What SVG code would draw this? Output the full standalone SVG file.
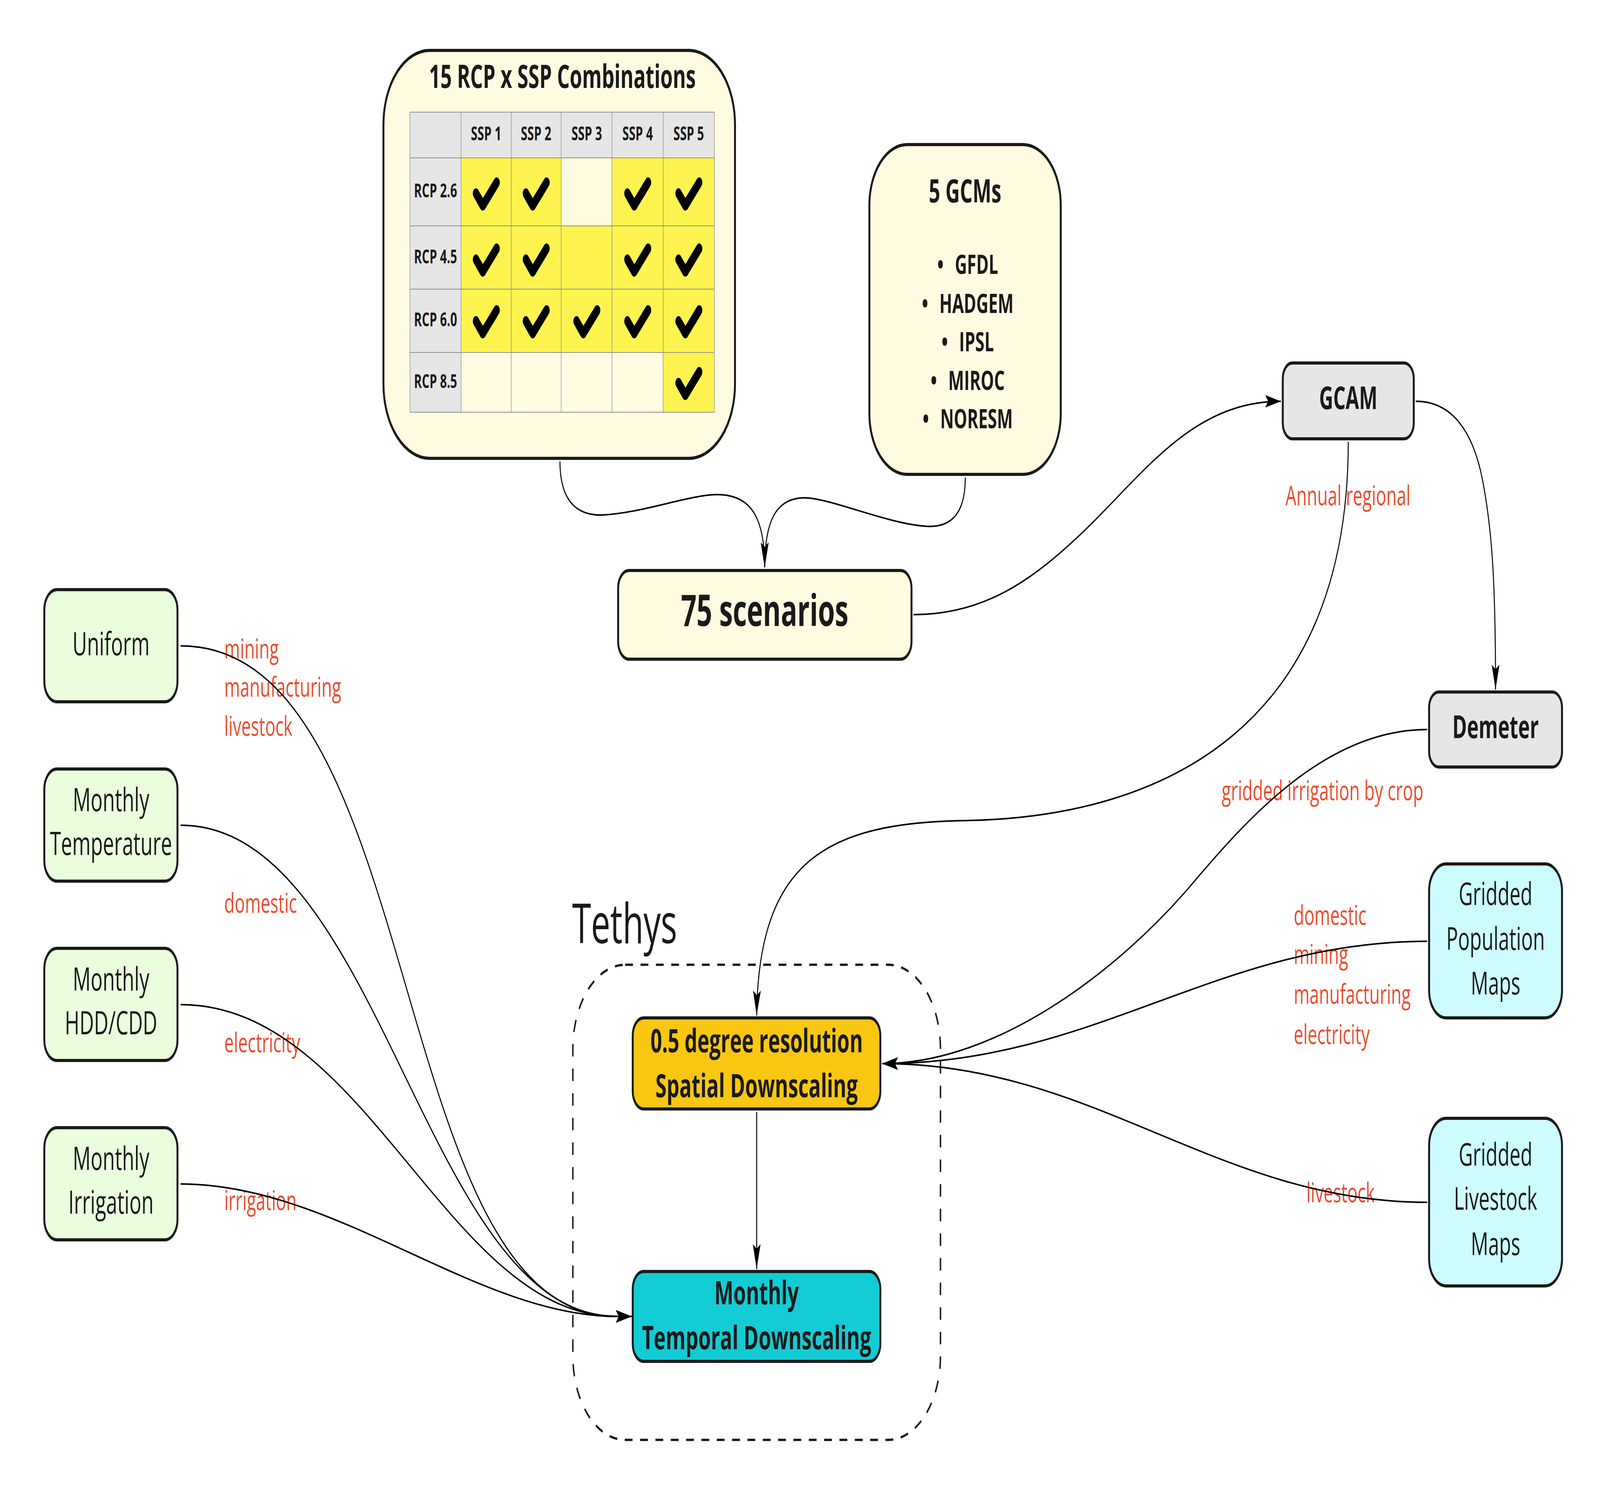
<svg xmlns="http://www.w3.org/2000/svg" xmlns:xlink="http://www.w3.org/1999/xlink" width="6572" height="3803" viewBox="0 0 6572 3803" preserveAspectRatio="none" style="width:100%;height:100%">
<style>
.node{stroke:#1a1a1a;stroke-width:8}
.cream{fill:#FFFBE0}
.gray{fill:#E6E6E6}
.green{fill:#EAFDDD}
.cyanl{fill:#CCFCFE}
.t{font-family:"Open Sans","DejaVu Sans",sans-serif;fill:#1a1a1a}
.b{font-weight:bold}
.mid{text-anchor:middle}
.lbl{font-family:"Open Sans","DejaVu Sans",sans-serif;font-size:70px;fill:#EB4B2D}
.edge{fill:none;stroke:#000;stroke-width:4;marker-end:url(#arr)}
.grid{fill:none;stroke:#8c8c8c;stroke-width:2}
.chk{fill:none;stroke:#000;stroke-width:26;stroke-linecap:round;stroke-linejoin:round}
</style>
<defs>
<marker id="arr" viewBox="0 0 64 32" markerWidth="64" markerHeight="32" refX="64" refY="16" orient="auto" markerUnits="userSpaceOnUse">
<path d="M0,0 L64,16 L0,32 L12,16 Z" fill="#000"/>
</marker>
<path id="chk" class="chk" d="M-42,4 L-14,35 L43,-24"/>
</defs>
<rect width="6572" height="3803" fill="#ffffff"/>

<g id="n-combos">
<rect class="node cream" x="1575" y="129" width="1444" height="1044" rx="190"/>
<text class="t b mid" x="2310" y="225" font-size="82">15 RCP x SSP Combinations</text>
<rect class="gray" x="1684" y="287" width="1250" height="117"/>
<rect class="gray" x="1684" y="404" width="210" height="651"/>
<rect class="cream" x="1894" y="404" width="1040" height="651"/>
<rect fill="#FFF44F" x="1894" y="404" width="411" height="174"/>
<rect fill="#FFF44F" x="2514" y="404" width="420" height="174"/>
<rect fill="#FFF44F" x="1894" y="578" width="1040" height="324"/>
<rect fill="#FFF44F" x="2724" y="902" width="210" height="153"/>
<path class="grid" d="M1684,287 H2934 V1055 H1684 Z M1684,404 H2934 M1684,578 H2934 M1684,740 H2934 M1684,902 H2934 M1894,287 V1055 M2100,287 V1055 M2305,287 V1055 M2514,287 V1055 M2724,287 V1055"/>
<g class="t b mid" font-size="49">
<text x="1997" y="359">SSP 1</text>
<text x="2202" y="359">SSP 2</text>
<text x="2410" y="359">SSP 3</text>
<text x="2619" y="359">SSP 4</text>
<text x="2829" y="359">SSP 5</text>
<text x="1789" y="505">RCP 2.6</text>
<text x="1789" y="674">RCP 4.5</text>
<text x="1789" y="835">RCP 6.0</text>
<text x="1789" y="993">RCP 8.5</text>
</g>
<use xlink:href="#chk" x="1997" y="491"/>
<use xlink:href="#chk" x="2202" y="491"/>
<use xlink:href="#chk" x="2619" y="491"/>
<use xlink:href="#chk" x="2829" y="491"/>
<use xlink:href="#chk" x="1997" y="660"/>
<use xlink:href="#chk" x="2202" y="660"/>
<use xlink:href="#chk" x="2619" y="660"/>
<use xlink:href="#chk" x="2829" y="660"/>
<use xlink:href="#chk" x="1997" y="818"/>
<use xlink:href="#chk" x="2202" y="818"/>
<use xlink:href="#chk" x="2410" y="818"/>
<use xlink:href="#chk" x="2619" y="818"/>
<use xlink:href="#chk" x="2829" y="818"/>
<use xlink:href="#chk" x="2829" y="976"/>
</g>

<g id="n-gcms">
<rect class="node cream" x="3571" y="370" width="786" height="844" rx="155"/>
<text class="t b mid" x="3964" y="518" font-size="82">5 GCMs</text>
<g class="t b mid" font-size="69">
<text x="3975" y="701">•<tspan dx="46">GFDL</tspan></text>
<text x="3975" y="801">•<tspan dx="46">HADGEM</tspan></text>
<text x="3975" y="899">•<tspan dx="46">IPSL</tspan></text>
<text x="3975" y="998">•<tspan dx="46">MIROC</tspan></text>
<text x="3975" y="1096">•<tspan dx="46">NORESM</tspan></text>
</g>
</g>

<g id="n-scenarios">
<rect class="node cream" x="2539" y="1460" width="1205" height="227" rx="45"/>
<text class="t b mid" x="3141" y="1602" font-size="112">75 scenarios</text>
</g>

<g id="n-gcam">
<rect class="node gray" x="5269" y="929" width="538" height="194" rx="40"/>
<text class="t b mid" x="5538" y="1047" font-size="80">GCAM</text>
</g>

<g id="n-demeter">
<rect class="node gray" x="5870" y="1771" width="546" height="192" rx="40"/>
<text class="t b mid" x="6143" y="1889" font-size="81">Demeter</text>
</g>

<g id="n-population">
<rect class="node cyanl" x="5870" y="2211" width="546" height="394" rx="70"/>
<g class="t mid" font-size="80">
<text x="6143" y="2316">Gridded</text>
<text x="6143" y="2431">Population</text>
<text x="6143" y="2545">Maps</text>
</g>
</g>

<g id="n-livestock">
<rect class="node cyanl" x="5870" y="2862" width="546" height="429" rx="70"/>
<g class="t mid" font-size="80">
<text x="6143" y="2983">Gridded</text>
<text x="6143" y="3096">Livestock</text>
<text x="6143" y="3212">Maps</text>
</g>
</g>

<g id="n-uniform">
<rect class="node green" x="182" y="1509" width="547" height="287" rx="52"/>
<text class="t mid" x="456" y="1677" font-size="82">Uniform</text>
</g>
<g id="n-temperature">
<rect class="node green" x="182" y="1968" width="547" height="287" rx="52"/>
<text class="t mid" x="456" y="2076" font-size="82">Monthly</text>
<text class="t mid" x="456" y="2188" font-size="82">Temperature</text>
</g>
<g id="n-hddcdd">
<rect class="node green" x="182" y="2427" width="547" height="287" rx="52"/>
<text class="t mid" x="456" y="2535" font-size="82">Monthly</text>
<text class="t mid" x="456" y="2647" font-size="82">HDD/CDD</text>
</g>
<g id="n-irrigation">
<rect class="node green" x="182" y="2886" width="547" height="287" rx="52"/>
<text class="t mid" x="456" y="2994" font-size="82">Monthly</text>
<text class="t mid" x="456" y="3106" font-size="82">Irrigation</text>
</g>

<g id="n-tethys">
<rect x="2353" y="2469" width="1510" height="1216" rx="215" fill="none" stroke="#1a1a1a" stroke-width="6" stroke-dasharray="32 31"/>
<text class="t" x="2350" y="2414" font-size="141">Tethys</text>
</g>

<g id="n-spatial">
<rect class="node" fill="#F9C712" x="2599" y="2605" width="1017" height="233" rx="45"/>
<text class="t b mid" x="3108" y="2693" font-size="83">0.5 degree resolution</text>
<text class="t b mid" x="3108" y="2808" font-size="83">Spatial Downscaling</text>
</g>

<g id="n-temporal">
<rect class="node" fill="#13CBD4" x="2599" y="3254" width="1017" height="230" rx="45"/>
<text class="t b mid" x="3108" y="3338" font-size="83">Monthly</text>
<text class="t b mid" x="3108" y="3453" font-size="83">Temporal Downscaling</text>
</g>

<g id="labels">
<text class="lbl" x="921" y="1685">mining</text>
<text class="lbl" x="921" y="1783">manufacturing</text>
<text class="lbl" x="921" y="1883">livestock</text>
<text class="lbl" x="921" y="2336">domestic</text>
<text class="lbl" x="921" y="2693">electricity</text>
<text class="lbl" x="921" y="3097">irrigation</text>
<text class="lbl" x="5537" y="1293" text-anchor="middle">Annual regional</text>
<text class="lbl" x="5018" y="2048">gridded irrigation by crop</text>
<text class="lbl" x="5314" y="2367">domestic</text>
<text class="lbl" x="5314" y="2467">mining</text>
<text class="lbl" x="5314" y="2569">manufacturing</text>
<text class="lbl" x="5314" y="2672">electricity</text>
<text class="lbl" x="5366" y="3077">livestock</text>
</g>

<g id="connectors">
<path class="edge" d="M2300,1181 C2300,1290 2380,1320 2476,1318 C2650,1312 2850,1262 2960,1266 C3090,1270 3141,1330 3141,1452"/>
<path class="edge" d="M3965,1222 C3965,1320 3900,1350 3807,1347 C3650,1342 3400,1272 3300,1274 C3190,1276 3141,1330 3141,1452"/>
<path class="edge" d="M3752,1573 C4050,1573 4250,1480 4456,1357 C4700,1210 4900,1027 5261,1027"/>
<path class="edge" d="M5815,1027 C5960,1027 6050,1100 6090,1230 C6130,1360 6143,1500 6143,1765"/>
<path class="edge" d="M5538,1131 C5538,1850 4800,2090 3970,2100 C3400,2105 3115,2200 3108,2599"/>
<path class="edge" d="M5862,1867 C5450,1867 5129,2091 4894,2264 C4600,2480 4100,2722 3624,2722"/>
<path class="edge" d="M5862,2409 C5000,2409 4500,2722 3624,2722"/>
<path class="edge" d="M5862,3077 C5000,3077 4500,2722 3624,2722"/>
<path class="edge" d="M3108,2846 L3108,3248"/>
<path class="edge" d="M742,1653 C1760,1653 1578,3369 2533,3369 L2594,3369"/>
<path class="edge" d="M742,2112 C1572,2112 1744,3369 2533,3369 L2594,3369"/>
<path class="edge" d="M742,2571 C1512,2571 1839,3369 2533,3369 L2594,3369"/>
<path class="edge" d="M742,3030 C1381,3030 1954,3369 2533,3369 L2594,3369"/>
</g>
</svg>
